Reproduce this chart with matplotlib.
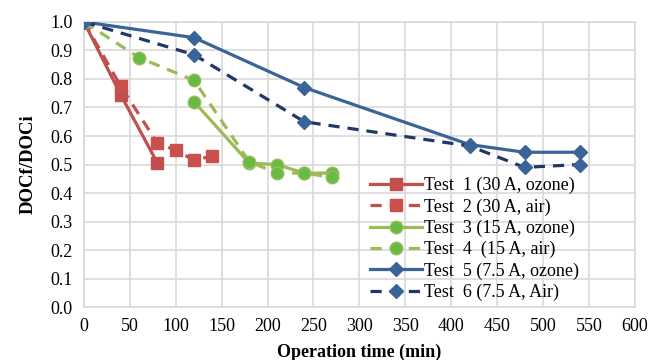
import matplotlib.pyplot as plt
import numpy as np

plt.rcParams["font.family"] = ["Liberation Serif", "DejaVu Serif"]

# Data (nan = gap in the line)
t1_time = [0, 40, 80]
t1_doc = [1.0, 0.745, 0.505]
t2_time = [0, 40, 80, 100, 120, 140]
t2_doc = [1.0, 0.775, 0.575, 0.55, 0.515, 0.53]
t3_time = [0, 60, 120, 180, 210, 240, 270]
t3_doc = [1.0, np.nan, 0.72, 0.505, 0.50, 0.47, 0.47]
t4_time = [0, 60, 120, 180, 210, 240, 270]
t4_doc = [1.0, 0.875, 0.795, 0.51, 0.47, 0.47, 0.455]
t5_time = [0, 120, 240, 420, 480, 540]
t5_doc = [1.0, 0.945, 0.77, 0.57, 0.543, 0.543]
t6_time = [0, 120, 240, 420, 480, 540]
t6_doc = [1.0, 0.885, 0.65, 0.565, 0.49, 0.50]

labels = [
    "Test  1 (30 A, ozone)",
    "Test  2 (30 A, air)",
    "Test  3 (15 A, ozone)",
    "Test  4  (15 A, air)",
    "Test  5 (7.5 A, ozone)",
    "Test  6 (7.5 A, Air)",
]

red = "#C0504D"
green_line = "#9BBB59"
green_mk = "#66BB44"
blue = "#3A6497"
navy = "#1F3864"

fig = plt.figure(figsize=(6.51, 3.60), dpi=100)
ax = fig.add_axes([0.129, 0.147, 0.846, 0.792])

dash = (0, (3.5, 2.5))
ax.plot(t1_time, t1_doc, color=red, lw=2.3, marker="s", ms=9,
        mfc=red, mec=red, label=labels[0], zorder=3)
ax.plot(t2_time, t2_doc, color=red, lw=2.3, ls=dash, marker="s", ms=9,
        mfc="#C9504D", mec="#C9504D", label=labels[1], zorder=3)
ax.plot(t3_time, t3_doc, color=green_line, lw=2.3, marker="o", ms=9,
        mfc=green_mk, mec=green_line, label=labels[2], zorder=3)
ax.plot(t4_time, t4_doc, color=green_line, lw=2.3, ls=dash, marker="o", ms=9,
        mfc=green_mk, mec=green_line, label=labels[3], zorder=3)
ax.plot(t5_time, t5_doc, color=blue, lw=2.3, marker="D", ms=7.5,
        mfc=blue, mec=blue, label=labels[4], zorder=3)
ax.plot(t6_time, t6_doc, color=navy, lw=2.3, ls=dash, marker="D", ms=7.5,
        mfc=blue, mec=blue, label=labels[5], zorder=3)

ax.set_xlim(0, 600)
ax.set_ylim(0, 1.0)
ax.set_xticks(np.arange(0, 601, 50))
ax.set_yticks(np.arange(0, 1.01, 0.1))
ax.set_yticklabels([f"{v:.1f}" for v in np.arange(0, 1.01, 0.1)])
ax.grid(True, color="#D9D9D9", lw=1.2)
ax.set_axisbelow(True)
for s in ax.spines.values():
    s.set_color("#D9D9D9")
    s.set_linewidth(1.2)
ax.tick_params(length=0, labelsize=13, pad=8)
ax.set_xlabel("Operation time (min)", fontsize=13, fontweight="bold", labelpad=6)
ax.set_ylabel("DOCf/DOCi", fontsize=13.5, fontweight="bold", labelpad=10)

ax.legend(loc="lower right", bbox_to_anchor=(0.915, -0.01), frameon=False,
          fontsize=13, handlelength=2.9, handletextpad=0.1, labelspacing=0.22,
          borderaxespad=0.1)

fig.savefig("out.png", dpi=100)
